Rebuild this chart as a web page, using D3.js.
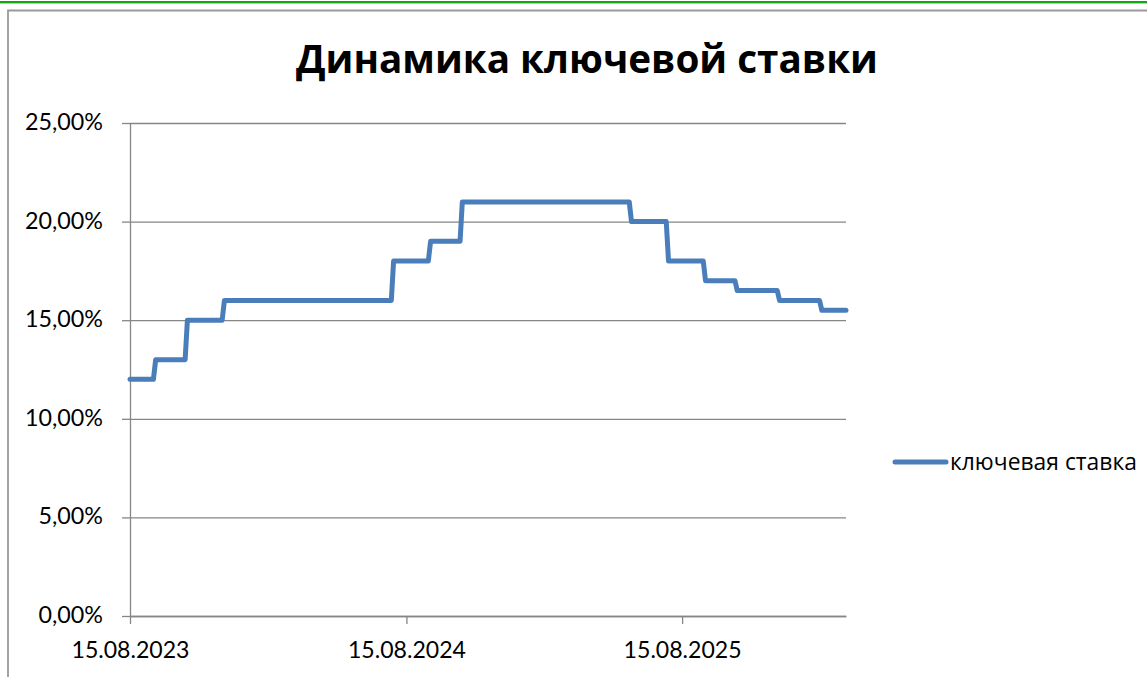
<!DOCTYPE html>
<html>
<head>
<meta charset="utf-8">
<script src="https://cdn.jsdelivr.net/npm/d3@7"></script>
<style>
  html, body { margin: 0; padding: 0; background: #fff; }
  svg { display: block; }
</style>
</head>
<body>
<svg id="chart" width="1147" height="677"></svg>
<script>
// ---- data ----
const chartTitle = "Динамика ключевой ставки";
const seriesName = "ключевая ставка";
const dates = [
  "2023-08-15","2023-09-15","2023-09-18","2023-10-27","2023-10-30","2023-12-15",
  "2023-12-18","2024-07-26","2024-07-29","2024-09-13","2024-09-16","2024-10-25",
  "2024-10-28","2025-06-06","2025-06-09","2025-07-25","2025-07-28","2025-09-12",
  "2025-09-15","2025-10-24","2025-10-27","2025-12-19","2025-12-22","2026-02-13",
  "2026-02-16","2026-03-20"
];
const rates = [
  0.12, 0.12, 0.13, 0.13, 0.15, 0.15,
  0.16, 0.16, 0.18, 0.18, 0.19, 0.19,
  0.21, 0.21, 0.20, 0.20, 0.18, 0.18,
  0.17, 0.17, 0.165, 0.165, 0.16, 0.16,
  0.155, 0.155
];
const yTickValues = [0, 0.05, 0.10, 0.15, 0.20, 0.25];
const xTickDates = ["2023-08-15", "2024-08-15", "2025-08-15"];

// ---- setup ----
const parse = d3.utcParse("%Y-%m-%d");
const points = dates.map((d, i) => ({ date: parse(d), value: rates[i] }));
const locale = d3.formatLocale({ decimal: ",", thousands: " ", grouping: [3], currency: ["", " ₽"] });
const pct = locale.format(".2%");
const dateFmt = d3.utcFormat("%d.%m.%Y");

const svg = d3.select("#chart");
const axisColor = "#868686";
const lineColor = "#4A7EBB";
const numFont = "Lato, 'Open Sans', sans-serif";
const txtFont = "'Open Sans', 'Noto Sans', sans-serif";

const plotL = 130, plotR = 846, plotT = 123, plotB = 616;
const x = d3.scaleUtc().domain(d3.extent(points, d => d.date)).range([plotL, plotR]);
const y = d3.scaleLinear().domain([0, 0.25]).range([plotB, plotT]);

// frame decorations
svg.append("rect").attr("x", 0).attr("y", 1).attr("width", 1147).attr("height", 2.4).attr("fill", "#13A813");
svg.append("path").attr("d", "M8,677 V10.5 H1147").attr("fill", "none")
  .attr("stroke", "#9a9a9a").attr("stroke-width", 1.8);

function fitWidth(sel, target) {
  const w = sel.node().getComputedTextLength();
  const fs = parseFloat(sel.attr("font-size"));
  sel.attr("font-size", fs * target / w);
}

// title
const title = svg.append("text").attr("x", 296).attr("y", 73)
  .attr("font-family", txtFont).attr("font-weight", "bold").attr("font-size", 40)
  .attr("fill", "#000").text(chartTitle);
fitWidth(title, 582);

// gridlines
svg.append("g").attr("transform", `translate(${plotL},0)`)
  .call(d3.axisLeft(y).tickValues(yTickValues).tickSize(-(plotR - plotL)).tickFormat(""))
  .call(g => g.select(".domain").remove())
  .call(g => g.selectAll("line").attr("stroke", axisColor).attr("stroke-width", 1.3));

// y axis
const gy = svg.append("g").attr("transform", `translate(${plotL},0)`)
  .call(d3.axisLeft(y).tickValues(yTickValues).tickSizeInner(8).tickSizeOuter(0)
    .tickPadding(19).tickFormat(pct));
gy.select(".domain").attr("stroke", axisColor).attr("stroke-width", 1.3);
gy.selectAll("line").attr("stroke", axisColor).attr("stroke-width", 1.3);
gy.selectAll("text").attr("font-family", numFont).attr("font-size", 22)
  .attr("fill", "#000").attr("dy", null).attr("y", 6.5);
{
  const t = gy.selectAll("text").filter(d => d === 0.25);
  const w = t.node().getComputedTextLength();
  gy.selectAll("text").attr("font-size", 22 * 78 / w);
}

// x axis
const gx = svg.append("g").attr("transform", `translate(0,${plotB})`)
  .call(d3.axisBottom(x).tickValues(xTickDates.map(parse)).tickSizeInner(8).tickSizeOuter(0)
    .tickFormat(dateFmt));
gx.select(".domain").attr("stroke", axisColor).attr("stroke-width", 1.3);
gx.selectAll("line").attr("stroke", axisColor).attr("stroke-width", 1.3);
gx.selectAll("text").attr("font-family", numFont).attr("font-size", 22)
  .attr("fill", "#000").attr("dy", null).attr("y", 42);
{
  const t = gx.select("text");
  const w = t.node().getComputedTextLength();
  gx.selectAll("text").attr("font-size", 22 * 118 / w);
}

// series line
svg.append("path").datum(points)
  .attr("fill", "none").attr("stroke", lineColor).attr("stroke-width", 5)
  .attr("stroke-linejoin", "round").attr("stroke-linecap", "round")
  .attr("d", d3.line().x(d => x(d.date)).y(d => y(d.value)));

// legend
const lg = svg.append("g");
lg.append("line").attr("x1", 895).attr("x2", 946).attr("y1", 462).attr("y2", 462)
  .attr("stroke", lineColor).attr("stroke-width", 5).attr("stroke-linecap", "round");
const lt = lg.append("text").attr("x", 950).attr("y", 470)
  .attr("font-family", txtFont).attr("font-size", 20).attr("fill", "#000").text(seriesName);
fitWidth(lt, 187);
</script>
</body>
</html>
